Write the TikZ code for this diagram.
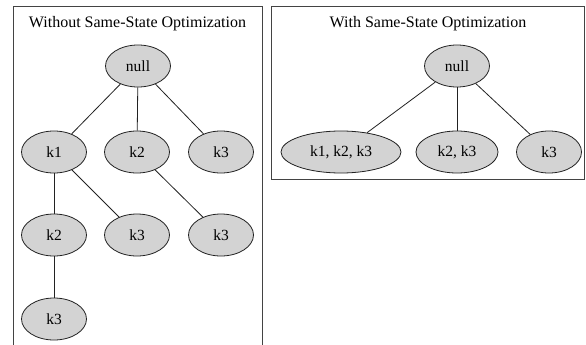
\documentclass[tikz,border=0pt]{standalone}
\usepackage{fontspec}
\setmainfont{Liberation Serif}
\usetikzlibrary{shapes.geometric}
\definecolor{nodefill}{HTML}{D3D3D3}
\definecolor{ink}{HTML}{222222}
\tikzset{
  st/.style={ellipse, draw=ink, line width=0.8pt, fill=nodefill, minimum width=65pt, minimum height=42pt, inner sep=0pt, font=\fontsize{15.5pt}{18pt}\selectfont},
  edge/.style={draw=ink, line width=0.8pt},
  frame/.style={draw=ink!85, line width=1pt},
  ttl/.style={font=\fontsize{16pt}{19pt}\selectfont}
}
\begin{document}
\begin{tikzpicture}[x=1pt,y=-1pt]
\useasboundingbox (0,0) rectangle (586,345);
\fill[white] (0,0) rectangle (586,345);
% left cluster
\draw[frame] (13,352) -- (13,7) -- (262,7) -- (262,352);
\node[ttl] (t1) at (137.5,24) {Without Same-State Optimization};
\node[st] (n0) at (138,66) {null};
\node[st] (a1) at (54,152) {k1};
\node[st] (a2) at (137,152) {k2};
\node[st] (a3) at (221,152) {k3};
\node[st] (b2) at (54,235) {k2};
\node[st] (b3) at (137,235) {k3};
\node[st] (c3) at (221,235) {k3};
\node[st] (d3) at (54,319) {k3};
\draw[edge] (n0) -- (a1);
\draw[edge] (n0) -- (a2);
\draw[edge] (n0) -- (a3);
\draw[edge] (a1) -- (b2);
\draw[edge] (a1) -- (b3);
\draw[edge] (a2) -- (c3);
\draw[edge] (b2) -- (d3);
% right cluster
\draw[frame] (271,7) rectangle (584,179);
\node[ttl] (t2) at (428,24) {With Same-State Optimization};
\node[st] (m0) at (457,66) {null};
\node[st, minimum width=120pt] (r1) at (341,152) {k1, k2, k3};
\node[st, minimum width=82pt] (r2) at (457,152) {k2, k3};
\node[st] (r3) at (549,152) {k3};
\draw[edge] (m0) -- (r1);
\draw[edge] (m0) -- (r2);
\draw[edge] (m0) -- (r3);
\end{tikzpicture}
\end{document}
